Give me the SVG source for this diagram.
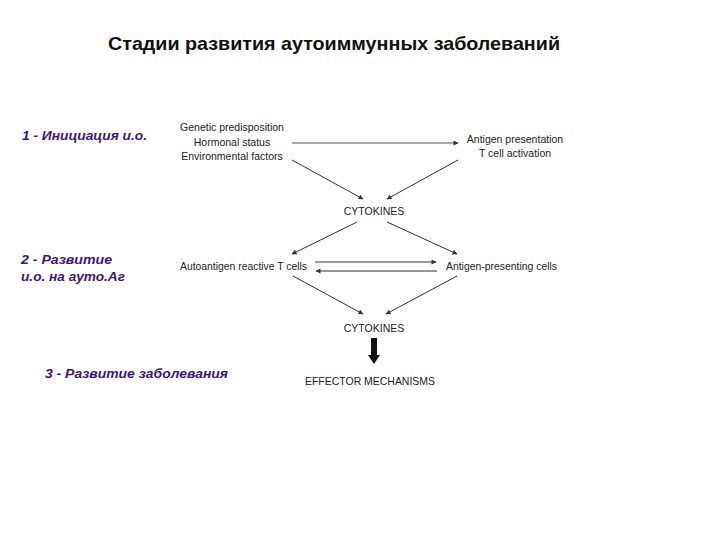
<svg xmlns="http://www.w3.org/2000/svg" width="720" height="540" viewBox="0 0 720 540">
<defs>
<style>
.title{font-family:"Liberation Sans","DejaVu Sans",sans-serif;font-size:18.5px;font-weight:bold;fill:#111;}
.stage{font-family:"Liberation Sans",Arial,sans-serif;font-size:13px;font-weight:bold;font-style:italic;fill:#3b1480;}
.t{font-family:"Liberation Sans",Arial,sans-serif;font-size:10.5px;fill:#222;}
.c{text-anchor:middle;}
.ln{stroke:#333;stroke-width:1;fill:none;marker-end:url(#ah);}
</style>
<marker id="ah" viewBox="0 0 10 10" refX="9" refY="5" markerWidth="7" markerHeight="5" markerUnits="userSpaceOnUse" orient="auto">
<path d="M0,0 L10,5 L0,10 Z" fill="#333"/>
</marker>
</defs>
<rect width="720" height="540" fill="#fff"/>
<text class="title" x="108" y="50" textLength="452" lengthAdjust="spacingAndGlyphs">Стадии развития аутоиммунных заболеваний</text>

<g id="stage1"><text class="stage" x="22" y="140" textLength="125" lengthAdjust="spacingAndGlyphs">1 - Инициация и.о.</text></g>
<g id="stage2"><text class="stage" x="21" y="264" textLength="91" lengthAdjust="spacingAndGlyphs">2 - Развитие</text><text class="stage" x="21" y="281" textLength="104" lengthAdjust="spacingAndGlyphs">и.о. на ауто.Аг</text></g>
<g id="stage3"><text class="stage" x="45" y="378" textLength="183" lengthAdjust="spacingAndGlyphs">3 - Развитие заболевания</text></g>

<g id="factors">
<text class="t c" x="232" y="131">Genetic predisposition</text>
<text class="t c" x="232" y="146">Hormonal status</text>
<text class="t c" x="232" y="160">Environmental factors</text>
</g>
<g id="antigen-presentation">
<text class="t c" x="515" y="143">Antigen presentation</text>
<text class="t c" x="515" y="157">T cell activation</text>
</g>
<g id="cytokines1"><text class="t c" x="374" y="215">CYTOKINES</text></g>
<g id="autoantigen-tcells"><text class="t" x="180" y="270" textLength="127" lengthAdjust="spacingAndGlyphs">Autoantigen reactive T cells</text></g>
<g id="apc"><text class="t" x="446" y="270" textLength="111" lengthAdjust="spacingAndGlyphs">Antigen-presenting cells</text></g>
<g id="cytokines2"><text class="t c" x="374" y="332">CYTOKINES</text></g>
<g id="effector"><text class="t" x="305" y="385" textLength="130" lengthAdjust="spacingAndGlyphs">EFFECTOR MECHANISMS</text></g>

<g id="connectors">
<line class="ln" x1="292" y1="143" x2="458" y2="143" style="stroke:#555"/>
<line class="ln" x1="292" y1="160" x2="363" y2="199"/>
<line class="ln" x1="458" y1="160" x2="387" y2="199"/>
<line class="ln" x1="357" y1="222" x2="292" y2="254"/>
<line class="ln" x1="387" y1="222" x2="457" y2="254"/>
<line class="ln" x1="315" y1="262" x2="436" y2="262"/>
<line class="ln" x1="437" y1="271" x2="316" y2="271"/>
<line class="ln" x1="293" y1="276" x2="363" y2="314"/>
<line class="ln" x1="457" y1="276" x2="386" y2="314"/>
<path d="M371,338 L377,338 L377,355 L380,355 L374,364 L368,355 L371,355 Z" fill="#111"/>
</g>
</svg>
